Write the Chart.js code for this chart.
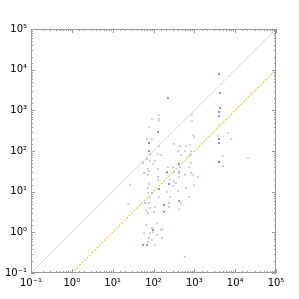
<!DOCTYPE html>
<html>
<head>
<meta charset="utf-8">
<script src="https://cdn.jsdelivr.net/npm/chart.js@4"></script>
<style>
  html, body { margin: 0; padding: 0; background: #fff; }
  #wrap { width: 299px; height: 299px; }
</style>
</head>
<body>
<div id="wrap"><canvas id="myChart" width="299" height="299"></canvas></div>
<script>
// axis limits and tick labels
const axisMin = 0.1, axisMax = 1e5;
const tickLabels = {'-1': '10⁻¹', '0': '10⁰', '1': '10¹', '2': '10²', '3': '10³', '4': '10⁴', '5': '10⁵'};

// darker points
const darkX = [226, 4020, 4260, 4260, 4020, 4020, 129, 78, 78, 4020, 4020, 4020, 421, 214, 240, 136, 181, 181, 421, 97, 55, 69];
const darkY = [2010, 7820, 2670, 1140, 910, 726, 293, 157, 100, 197, 157, 54, 48, 30, 15.4, 11.6, 4.7, 3.2, 5.9, 1.14, 0.49, 0.49];

// lighter points
const lightX = [136, 92, 136, 877, 136, 78, 69, 92, 318, 136, 82, 129, 153, 69, 82, 109, 97, 55, 73, 129, 226, 300,
  877, 929, 982, 3800, 6680, 7910, 446, 625, 784, 398, 591, 829, 472, 784, 5040, 20600, 5040, 829, 446, 741,
  59, 78, 129, 318, 73, 129, 254, 318, 27, 78, 300, 73, 73, 92, 214, 136, 82, 254, 62, 78, 24, 240, 82, 109, 66, 103, 73, 240,
  421, 421, 591, 829, 929, 1230, 421, 356, 982, 625, 398, 741, 472, 421,
  66, 92, 97, 59, 82, 153, 78, 92, 73, 591, 122, 122, 162, 162, 109];
const lightY = [767, 612, 612, 767, 546, 389, 197, 197, 149, 133, 84, 84, 80, 64, 57, 57, 48, 51, 36, 36, 40, 40,
  546, 247, 221, 234, 277, 197, 133, 133, 140, 100, 100, 100, 80, 80, 75, 67, 43, 51, 40, 40,
  29, 32, 23, 30, 26, 19, 20, 18, 15, 15.4, 13.8, 12.3, 9.3, 9.3, 9.8, 7.4, 7.0, 7.4, 5.3, 5.3, 5.0, 5.3, 4.0, 4.2, 3.5, 3.2, 3.0, 4.2,
  32, 29, 26, 29, 26, 23, 23, 16.3, 14.6, 12.3, 10.4, 7.4, 5.3, 3.7,
  1.51, 1.28, 1.01, 0.96, 0.96, 1.14, 0.73, 0.65, 0.58, 0.25, 0.86, 1.70, 1.21, 0.73, 0.49];

// reference lines
const diagX = [0.1, 1e5], diagY = [0.1, 1e5];
const tenthX = [1, 1e5], tenthY = [0.1, 1e4];

const zip = (xs, ys) => xs.map((x, i) => ({x: x, y: ys[i]}));
const isMajor = v => Math.abs(Math.log10(v) - Math.round(Math.log10(v))) < 1e-6;

// inward ticks on all four sides + top/right frame
const frameTicks = {
    id: 'frameTicks',
    afterDatasetsDraw(chart) {
        const {ctx, chartArea: a, scales} = chart;
        ctx.save();
        ctx.strokeStyle = '#999';
        ctx.lineWidth = 1;
        ctx.strokeRect(a.left + 0.5, a.top + 0.5, a.right - a.left - 1, a.bottom - a.top - 1);
        ctx.beginPath();
        scales.x.ticks.forEach(t => {
            const p = Math.round(scales.x.getPixelForValue(t.value)) + 0.5;
            const len = isMajor(t.value) ? 4 : 2;
            ctx.moveTo(p, a.bottom); ctx.lineTo(p, a.bottom - len);
            ctx.moveTo(p, a.top); ctx.lineTo(p, a.top + len);
        });
        scales.y.ticks.forEach(t => {
            const p = Math.round(scales.y.getPixelForValue(t.value)) + 0.5;
            const len = isMajor(t.value) ? 4 : 2;
            ctx.moveTo(a.left, p); ctx.lineTo(a.left + len, p);
            ctx.moveTo(a.right, p); ctx.lineTo(a.right - len, p);
        });
        ctx.stroke();
        ctx.restore();
    }
};

const axisOpts = (fitKey, fitVal) => ({
    type: 'logarithmic',
    min: axisMin,
    max: axisMax,
    grid: { display: false, drawTicks: false },
    border: { display: false },
    ticks: {
        autoSkip: false,
        maxRotation: 0,
        color: '#000',
        padding: 4,
        font: { family: 'DejaVu Sans', size: 10 },
        callback: v => isMajor(v) ? tickLabels[String(Math.round(Math.log10(v)))] : ''
    },
    afterFit: s => { s[fitKey] = fitVal; }
});

const ctx = document.getElementById('myChart').getContext('2d');
const chart = new Chart(ctx, {
    type: 'scatter',
    data: {
        datasets: [
            {
                type: 'line', data: zip(diagX, diagY),
                borderColor: '#d4d4d4', borderWidth: 1, pointRadius: 0, order: 3
            },
            {
                type: 'line', data: zip(tenthX, tenthY),
                borderColor: '#d2d23a', borderWidth: 1.1, borderDash: [2, 1.5], pointRadius: 0, order: 2
            },
            {
                data: zip(lightX, lightY),
                pointStyle: 'rect', pointRadius: 1.1, borderWidth: 0,
                backgroundColor: 'rgba(70, 70, 255, 0.45)', order: 1
            },
            {
                data: zip(darkX, darkY),
                pointStyle: 'rect', pointRadius: 1.1, borderWidth: 0,
                backgroundColor: 'rgba(20, 20, 255, 0.8)', order: 0
            }
        ]
    },
    options: {
        responsive: false,
        animation: false,
        devicePixelRatio: 1,
        layout: { padding: { left: 0, top: 29, right: 23, bottom: 0 } },
        plugins: { legend: { display: false }, tooltip: { enabled: false } },
        scales: {
            x: axisOpts('height', 26),
            y: axisOpts('width', 31)
        }
    },
    plugins: [frameTicks]
});
</script>
</body>
</html>
